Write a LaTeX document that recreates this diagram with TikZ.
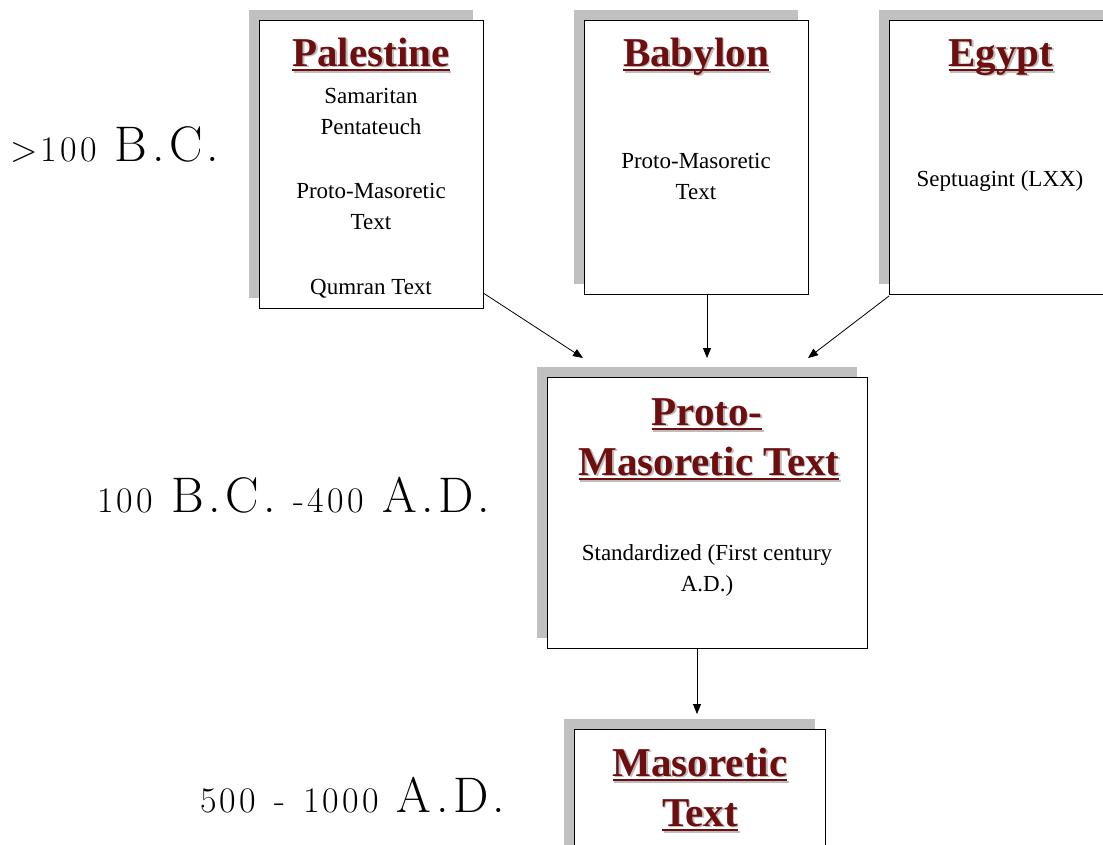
\documentclass[tikz,border=0pt]{standalone}
\usepackage{fontspec}
\setmainfont{Liberation Serif}
\newfontfamily\datefont[LetterSpace=9]{Latin Modern Roman}
\usetikzlibrary{arrows.meta,calc}
\definecolor{titlered}{HTML}{6E0E0E}
\definecolor{titleshadow}{HTML}{BDBDBD}
\definecolor{boxshadow}{HTML}{C0C0C0}
\newcommand\ulbox[1]{\leavevmode\setbox0\hbox{#1}\rlap{\rule[-5pt]{\wd0}{1.6pt}}\box0}
\newcommand\shtitle[1]{\rlap{\hspace{1.6pt}\raisebox{-1.6pt}{\color{titleshadow}\ulbox{#1}}}{\color{titlered}\ulbox{#1}}}
\newcommand\dg[1]{{\fontsize{36}{40}\selectfont #1}}
\newcommand\dl[1]{{\fontsize{50}{56}\selectfont #1}}
\newcommand\gap{\hspace{18pt}}
\begin{document}
\begin{tikzpicture}[x=1pt,y=-1pt,
  box/.style={draw=black,line width=1pt,fill=white,inner sep=0pt,outer sep=0pt},
  titletext/.style={anchor=base,inner sep=0pt,font=\fontsize{41}{50}\selectfont\bfseries},
  bodytext/.style={anchor=base,inner sep=0pt,font=\fontsize{23}{31}\selectfont},
  datetext/.style={anchor=base west,inner sep=0pt,font=\datefont},
  arr/.style={draw=black,line width=0.8pt,-{Triangle[length=10pt,width=8pt]}}]
\useasboundingbox (0,0) rectangle (1103,844);
\begin{scope}
\clip (0,0) rectangle (1103,844);
% shadows
\fill[boxshadow] (249,10) rectangle (473,298);
\fill[boxshadow] (574,10) rectangle (798,284);
\fill[boxshadow] (879,10) rectangle (1103,284);
\fill[boxshadow] (537,367) rectangle (857,638);
\fill[boxshadow] (564,719) rectangle (815,860);
% boxes
\node[box,minimum width=224pt,minimum height=288pt] (pal) at (371,164) {};
\node[box,minimum width=224pt,minimum height=274pt] (bab) at (696,157) {};
\node[box,minimum width=224pt,minimum height=274pt] (egy) at (1001,157) {};
\node[box,minimum width=320pt,minimum height=271pt] (proto) at (707,512.5) {};
\node[box,minimum width=251pt,minimum height=140pt] (mas) at (699.5,799) {};
\end{scope}
% titles
\node[titletext] (palT) at (371,66) {\shtitle{Palestine}};
\node[titletext] (babT) at (696,66) {\shtitle{Babylon}};
\node[titletext] (egyT) at (1001,66) {\shtitle{Egypt}};
\node[titletext] (protoT1) at (707,425) {\shtitle{Proto-}};
\node[titletext] (protoT2) at (709,475) {\shtitle{Masoretic Text}};
\node[titletext] (masT1) at (700,776) {\shtitle{Masoretic}};
\node[titletext] (masT2) at (700,826) {\shtitle{Text}};
% body
\node[bodytext] (palB1) at (371,103) {Samaritan};
\node[bodytext] (palB2) at (371,134) {Pentateuch};
\node[bodytext] (palB3) at (371,198) {Proto-Masoretic};
\node[bodytext] (palB4) at (371,229) {Text};
\node[bodytext] (palB5) at (371,294) {Qumran Text};
\node[bodytext] (babB1) at (696,168) {Proto-Masoretic};
\node[bodytext] (babB2) at (696,199) {Text};
\node[bodytext] (egyB1) at (1000,186) {Septuagint (LXX)};
\node[bodytext] (protoB1) at (707,560) {Standardized (First century};
\node[bodytext] (protoB2) at (707,591) {A.D.)};
% dates
\node[datetext] (d1) at (10,161) {\dg{>100}\gap\dl{B.C.}};
\node[datetext] (d2) at (97,512) {\dg{100}\gap\dl{B.C.}\gap\dg{-400}\gap\dl{A.D.}};
\node[datetext] (d3) at (200,812) {\dg{500}\gap\dg{-}\gap\dg{1000}\gap\dl{A.D.}};
% arrows
\draw[arr] (pal.-49.5) -- ($(proto.north west)+(36,-19)$);
\draw[arr] ($(bab.south)+(11,0)$) -- ($(proto.north)+(0,-19)$);
\draw[arr] ($(egy.south west)+(0,2)$) -- ($(proto.north east)+(-59,-19)$);
\draw[arr] ($(proto.south)+(-10,0)$) -- ($(mas.north)+(-2.5,-15)$);
\end{tikzpicture}
\end{document}
